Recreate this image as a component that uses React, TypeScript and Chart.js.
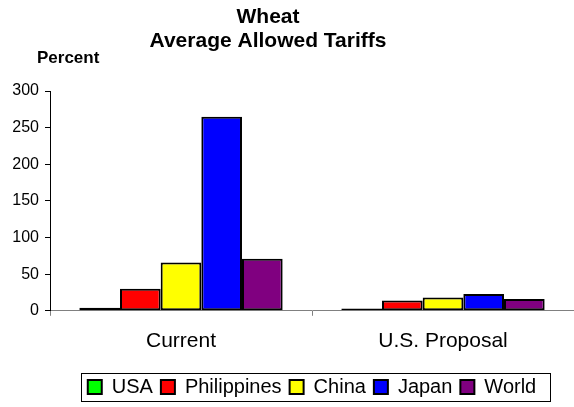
import React, { useEffect, useRef } from "react";
import { Chart, registerables } from "chart.js";

Chart.register(...registerables);

const categories = ["Current", "U.S. Proposal"];
const seriesNames = ["USA", "Philippines", "China", "Japan", "World"];
const usaValues = [4, 3];
const philippinesValues = [30, 14];
const chinaValues = [66, 18];
const japanValues = [265, 23];
const worldValues = [71, 16];
const seriesColors = ["#00FF00", "#FF0000", "#FFFF00", "#0000FF", "#800080"];
const yTickValues = [0, 50, 100, 150, 200, 250, 300];
const titleLines = ["Wheat", "Average Allowed Tariffs"];
const yAxisTitle = "Percent";

const FONT = "'Liberation Sans', Arial, sans-serif";

const textPlugin = {
  id: "customText",
  afterDraw(chart: any) {
    const ctx = chart.ctx;
    ctx.save();
    ctx.fillStyle = "#000";
    ctx.textBaseline = "middle";
    ctx.textAlign = "center";
    ctx.font = `bold 21px ${FONT}`;
    ctx.fillText(titleLines[0], 268, 17);
    ctx.fillText(titleLines[1], 268, 41);
    ctx.textAlign = "left";
    ctx.font = `bold 17px ${FONT}`;
    ctx.fillText(yAxisTitle, 37, 58);
    ctx.restore();
  },
};

const legendBorderPlugin = {
  id: "legendBorder",
  afterDraw(chart: any) {
    const lg = chart.legend;
    if (!lg || !lg.legendHitBoxes || !lg.legendHitBoxes.length) return;
    const boxes = lg.legendHitBoxes;
    let l = Infinity, r = -Infinity, t = Infinity, b = -Infinity;
    for (const h of boxes) {
      l = Math.min(l, h.left);
      r = Math.max(r, h.left + h.width);
      t = Math.min(t, h.top);
      b = Math.max(b, h.top + h.height);
    }
    const ctx = chart.ctx;
    ctx.save();
    ctx.strokeStyle = "#000";
    ctx.lineWidth = 1;
    const x0 = Math.round(l - 7) + 0.5;
    const y0 = Math.round(t - 4) + 0.5;
    ctx.strokeRect(x0, y0, Math.round(r + 14) - x0 + 0.5, Math.round(b + 4) - y0 + 0.5);
    ctx.restore();
  },
};

export default function App() {
  const ref = useRef<HTMLCanvasElement | null>(null);
  useEffect(() => {
    if (!ref.current) return;
    const all = [usaValues, philippinesValues, chinaValues, japanValues, worldValues];
    const chart = new Chart(ref.current, {
      type: "bar",
      data: {
        labels: categories,
        datasets: seriesNames.map((name, i) => ({
          label: name,
          data: all[i],
          backgroundColor: seriesColors[i],
          borderColor: "#000",
          borderWidth: 2,
          borderSkipped: false,
          barPercentage: 1,
          categoryPercentage: 0.776,
        })),
      },
      options: {
        responsive: false,
        animation: false,
        layout: { padding: { top: 91, right: -2, left: 0, bottom: 0 } },
        plugins: {
          title: { display: false },
          tooltip: { enabled: false },
          legend: {
            display: true,
            position: "bottom",
            fullSize: false,
            labels: {
              color: "#000",
              font: { family: FONT, size: 20 },
              boxWidth: 14,
              boxHeight: 14,
              padding: 8,
            },
          },
        },
        scales: {
          x: {
            afterFit: (scale: any) => {
              scale.height += 2;
            },
            grid: {
              display: true,
              drawOnChartArea: false,
              drawTicks: true,
              tickLength: 5,
              color: "#808080",
              offset: true,
            },
            border: { display: true, color: "#808080", width: 1 },
            ticks: {
              color: "#000",
              font: { family: FONT, size: 21 },
              padding: 13,
            },
          },
          y: {
            min: 0,
            max: 300,
            afterBuildTicks: (scale: any) => {
              scale.ticks = yTickValues.map((v) => ({ value: v }));
            },
            afterFit: (scale: any) => {
              scale.width = 50;
            },
            grid: {
              display: true,
              drawOnChartArea: false,
              drawTicks: true,
              tickLength: 5,
              color: "#000",
            },
            border: { display: true, color: "#000", width: 1 },
            ticks: {
              color: "#000",
              font: { family: FONT, size: 16 },
              padding: 6,
            },
          },
        },
      },
      plugins: [textPlugin, legendBorderPlugin],
    });
    return () => chart.destroy();
  }, []);
  return (
    <div style={{ position: "fixed", left: 0, top: 0, width: 574, height: 407, background: "#fff" }}>
      <canvas ref={ref} width={574} height={407} style={{ width: 574, height: 407 }} />
    </div>
  );
}
